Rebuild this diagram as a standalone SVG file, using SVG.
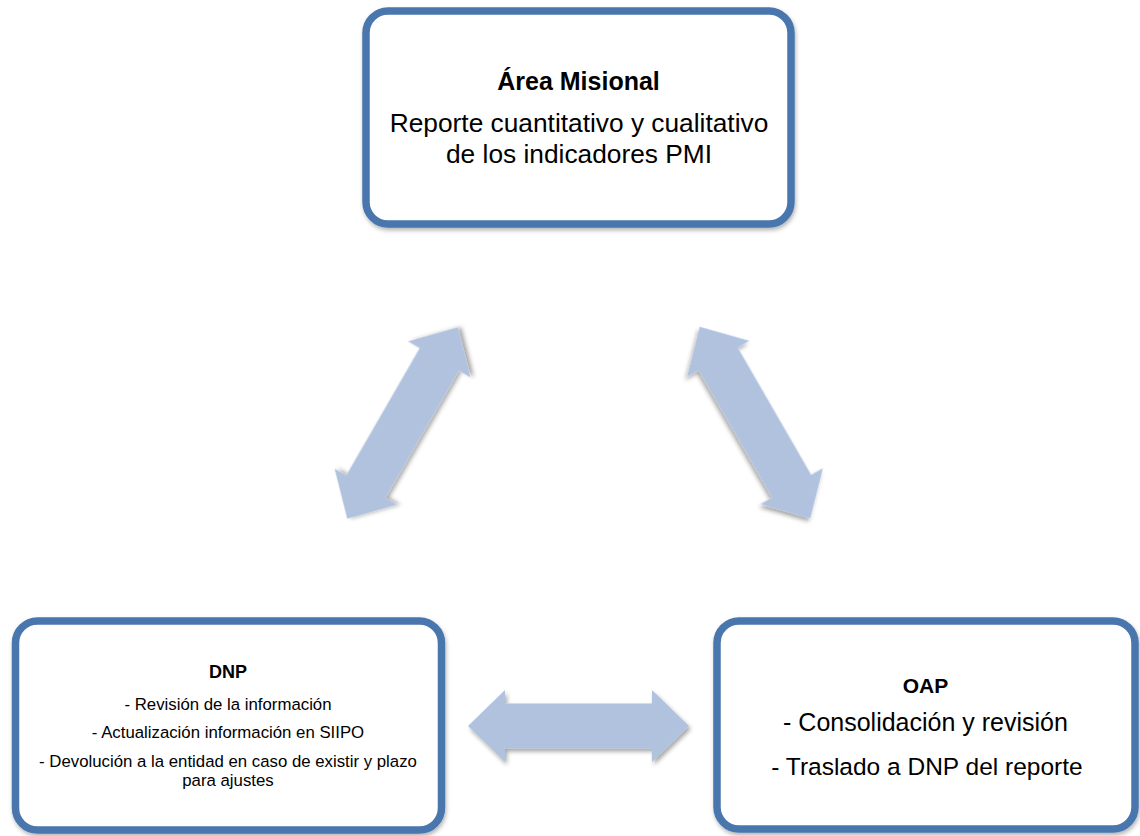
<svg xmlns="http://www.w3.org/2000/svg" width="1140" height="836" viewBox="0 0 1140 836">
  <defs>
    <filter id="shadow" x="-10%" y="-10%" width="125%" height="130%">
      <feDropShadow dx="2" dy="3" stdDeviation="2.2" flood-color="#000000" flood-opacity="0.35"/>
    </filter>
    <filter id="boxshadow" x="-5%" y="-5%" width="112%" height="115%">
      <feDropShadow dx="1" dy="2.5" stdDeviation="2" flood-color="#000000" flood-opacity="0.3"/>
    </filter>
    <path id="dblarrow" d="M -110.5,0 L -73.5,-36 L -73.5,-22.5 L 73.5,-22.5 L 73.5,-36 L 110.5,0 L 73.5,36 L 73.5,22.5 L -73.5,22.5 L -73.5,36 Z"/>
  </defs>
  <style>
    .box { fill: #ffffff; stroke: #4A77AD; stroke-width: 7.5; filter: url(#boxshadow); }
    .arrow { fill: #B0C2DE; filter: url(#shadow); }
    text { font-family: "Liberation Sans", Arial, sans-serif; fill: #000000; text-anchor: middle; }
    .title { font-weight: bold; }
  </style>
  <rect width="1140" height="836" fill="#ffffff"/>

  <g id="connectors">
    <use href="#dblarrow" class="arrow" transform="translate(402.5,423) rotate(-60)"/>
    <use href="#dblarrow" class="arrow" transform="translate(755,422.5) rotate(60)"/>
    <use href="#dblarrow" class="arrow" transform="translate(578.5,726)"/>
  </g>

  <g id="node-area-misional">
    <rect class="box" x="366" y="11" width="425" height="213" rx="22" ry="22"/>
    <text class="title" x="578.5" y="90" font-size="25">Área Misional</text>
    <text x="579" y="132" font-size="26.3">Reporte cuantitativo y cualitativo</text>
    <text x="579" y="163" font-size="26.3">de los indicadores PMI</text>
  </g>

  <g id="node-dnp">
    <rect class="box" x="15.5" y="621" width="426" height="209" rx="22" ry="22"/>
    <text class="title" x="228" y="678" font-size="18">DNP</text>
    <text x="228" y="710" font-size="16.8">- Revisión de la información</text>
    <text x="228" y="738" font-size="16.8">- Actualización información en SIIPO</text>
    <text x="228" y="767" font-size="16.8">- Devolución a la entidad en caso de existir y plazo</text>
    <text x="228" y="786" font-size="16.8">para ajustes</text>
  </g>

  <g id="node-oap">
    <rect class="box" x="717" y="621" width="418" height="208" rx="22" ry="22"/>
    <text class="title" x="925.5" y="693" font-size="21">OAP</text>
    <text x="925.5" y="731" font-size="25">- Consolidación y revisión</text>
    <text x="927" y="775" font-size="24.5">- Traslado a DNP del reporte</text>
  </g>
</svg>
